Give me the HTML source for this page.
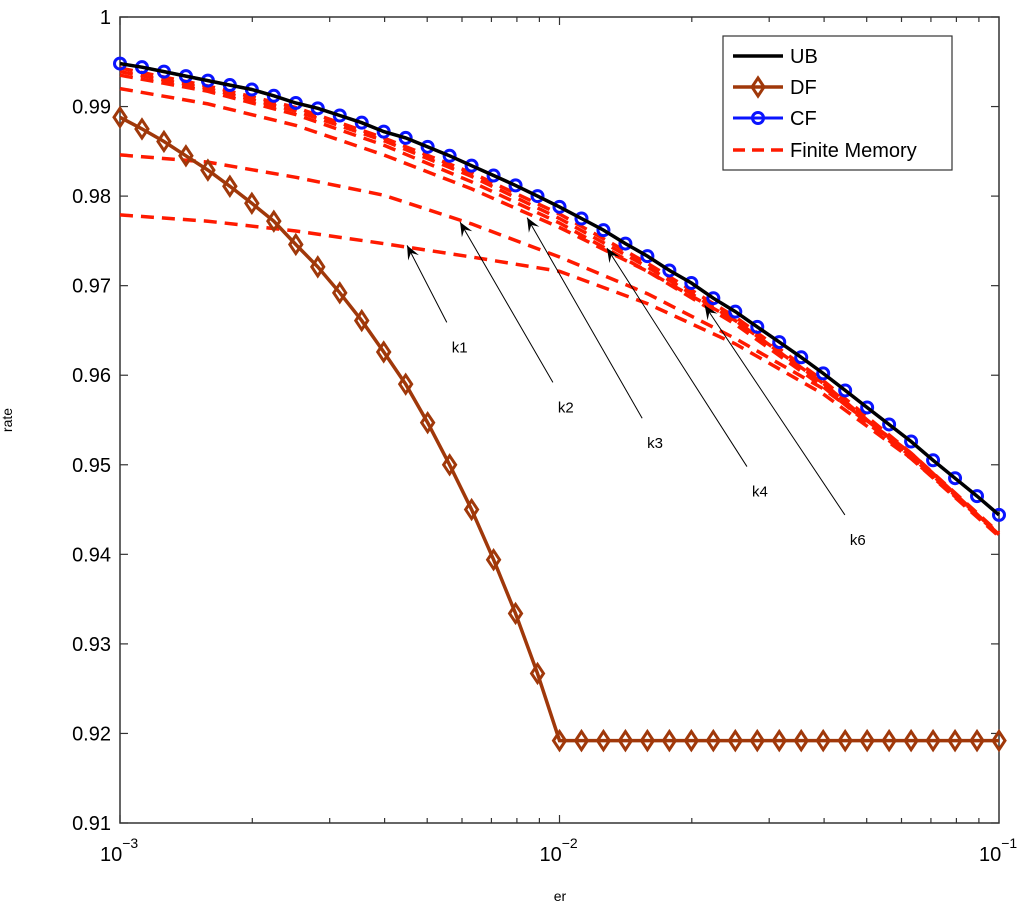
<!DOCTYPE html>
<html><head><meta charset="utf-8"><style>
body{margin:0;background:#fff;}
svg{display:block;font-family:"Liberation Sans",sans-serif;}
</style></head><body>
<svg id="chart" width="1024" height="910" viewBox="0 0 1024 910" xmlns="http://www.w3.org/2000/svg">
<rect x="0" y="0" width="1024" height="910" fill="#fff"/>
<g id="axes"></g>
<g id="series"></g>
<g id="annot"></g>
<g id="legend"></g>
<text x="12" y="420" font-size="14" text-anchor="middle" transform="rotate(-90 12 420)">rate</text>
<text x="560" y="901" font-size="14" text-anchor="middle">er</text>
</svg>
<script>
const xExpStart = -3, xExpEnd = -1, nPts = 41;
const ubValues = [0.9948,0.9944,0.9939,0.9934,0.9929,0.9924,0.9919,0.9912,0.9904,0.9898,0.9890,0.9882,0.9872,0.9865,0.9855,0.9845,0.9834,0.9823,0.9812,0.9800,0.9788,0.9775,0.9762,0.9747,0.9733,0.9717,0.9703,0.9686,0.9671,0.9654,0.9637,0.9620,0.9602,0.9583,0.9564,0.9545,0.9526,0.9505,0.9485,0.9465,0.9444];
const cfValues = [0.9948,0.9944,0.9939,0.9934,0.9929,0.9924,0.9919,0.9912,0.9904,0.9898,0.9890,0.9882,0.9872,0.9865,0.9855,0.9845,0.9834,0.9823,0.9812,0.9800,0.9788,0.9775,0.9762,0.9747,0.9733,0.9717,0.9703,0.9686,0.9671,0.9654,0.9637,0.9620,0.9602,0.9583,0.9564,0.9545,0.9526,0.9505,0.9485,0.9465,0.9444];
const dfValues = [0.9888,0.9875,0.9861,0.9845,0.9829,0.9811,0.9792,0.9772,0.9746,0.9721,0.9692,0.9661,0.9626,0.9590,0.9547,0.9500,0.9450,0.9394,0.9334,0.9267,0.9192,0.9192,0.9192,0.9192,0.9192,0.9192,0.9192,0.9192,0.9192,0.9192,0.9192,0.9192,0.9192,0.9192,0.9192,0.9192,0.9192,0.9192,0.9192,0.9192,0.9192];
const fmExps = [-3,-2.8,-2.6,-2.4,-2.2,-2,-1.8,-1.6,-1.4,-1.2,-1];
const fmK1 = [0.9779,0.9772,0.9761,0.9747,0.9732,0.9716,0.9680,0.9635,0.9579,0.9507,0.9420];
const fmK2 = [0.9846,0.9838,0.9821,0.9801,0.9769,0.9732,0.9691,0.9641,0.9585,0.9513,0.9422];
const fmK3 = [0.9920,0.9903,0.9879,0.9846,0.9808,0.9765,0.9716,0.9661,0.9591,0.9509,0.9422];
const fmK4 = [0.9935,0.9917,0.9891,0.9857,0.9816,0.9770,0.9716,0.9657,0.9587,0.9507,0.9422];
const fmK5 = [0.9939,0.9920,0.9895,0.9862,0.9822,0.9775,0.9721,0.9661,0.9591,0.9509,0.9423];
const fmK6 = [0.9943,0.9923,0.9899,0.9865,0.9826,0.9780,0.9725,0.9665,0.9594,0.9513,0.9424];
const yTicks = [0.91,0.92,0.93,0.94,0.95,0.96,0.97,0.98,0.99,1];
const yTickLabels = ["0.91","0.92","0.93","0.94","0.95","0.96","0.97","0.98","0.99","1"];
const xMajorExps = [-3,-2,-1];
const annLabels = ["k1","k2","k3","k4","k6"];
const annTipX = [0.0045,0.00594,0.00844,0.01282,0.0214];
const annTipY = [0.9745,0.9771,0.9776,0.9742,0.9678];
const annLabX = [0.00554,0.00966,0.01542,0.0267,0.0446];
const annLabY = [0.9659,0.9592,0.9552,0.9498,0.9444];

const L=120,R=999,T=17,B=823;
const NS="http://www.w3.org/2000/svg";
function sx(e){return L+(e-xExpStart)/(xExpEnd-xExpStart)*(R-L);}
function xv(v){return sx(Math.log10(v));}
function sy(v){return B-(v-0.91)/0.09*(B-T);}
function mk(tag,attrs,parent){const el=document.createElementNS(NS,tag);for(const k in attrs)el.setAttribute(k,attrs[k]);parent.appendChild(el);return el;}
const axes=document.getElementById('axes'),series=document.getElementById('series'),annot=document.getElementById('annot'),legend=document.getElementById('legend');
let f=mk('rect',{x:L,y:T,width:R-L,height:B-T,fill:'none',stroke:'#333','stroke-width':1.5},axes);


yTicks.forEach((v,i)=>{const y=sy(v);
 mk('line',{x1:L,y1:y,x2:L+8,y2:y,stroke:'#333','stroke-width':1.2},axes);
 mk('line',{x1:R,y1:y,x2:R-8,y2:y,stroke:'#333','stroke-width':1.2},axes);
 const t=mk('text',{x:L-9,y:y+7,'font-size':20,'text-anchor':'end'},axes);t.textContent=yTickLabels[i];
 
 
});
for(let d=-3;d<-1;d++){for(let m=1;m<10;m++){const x=sx(d+Math.log10(m));const len=m===1?8:5;
 mk('line',{x1:x,y1:B,x2:x,y2:B-len,stroke:'#333','stroke-width':1.2},axes);
 mk('line',{x1:x,y1:T,x2:x,y2:T+len,stroke:'#333','stroke-width':1.2},axes);}}
xMajorExps.forEach(e=>{const x=sx(e);
 const t=mk('text',{x:x-20,y:861,'font-size':20},axes);
 
 
 const a=mk('tspan',{},t);a.textContent='10';
 const b=mk('tspan',{dy:-13,'font-size':14},t);b.textContent='\u2212'+Math.abs(e);
});
function xs(i){return sx(xExpStart+i*(xExpEnd-xExpStart)/(nPts-1));}
function path(xsArr,vals){return vals.map((v,i)=>(i?'L':'M')+xsArr[i].toFixed(1)+','+sy(v).toFixed(1)).join('');}
const gridX=ubValues.map((_,i)=>xs(i));
const fmX=fmExps.map(sx);
[fmK1,fmK2,fmK3,fmK4,fmK5,fmK6].forEach((arr,k)=>{
 const p=mk('path',{d:path(fmX,arr),fill:'none',stroke:'#ff1a00','stroke-width':3.5,'stroke-dasharray':'13 8'},series);
 
 
});
const dfp=mk('path',{d:path(gridX,dfValues),fill:'none',stroke:'#a0380a','stroke-width':3.5},series);


dfValues.forEach((v,i)=>{const x=gridX[i],y=sy(v);
 const m=mk('path',{d:`M${x},${y-9}L${x+6},${y}L${x},${y+9}L${x-6},${y}Z`,fill:'none',stroke:'#a0380a','stroke-width':3},series);
 
 
});
cfValues.forEach((v,i)=>{
 const c=mk('circle',{cx:gridX[i],cy:sy(v),r:5.5,fill:'none',stroke:'#0a14ff','stroke-width':3},series);
 
 
});
const cfp=mk('path',{d:path(gridX,cfValues),fill:'none',stroke:'#0a14ff','stroke-width':3},series);


const ubp=mk('path',{d:path(gridX,ubValues),fill:'none',stroke:'#000','stroke-width':3.5},series);


annLabels.forEach((lab,i)=>{
 const x1=xv(annLabX[i]),y1=sy(annLabY[i]),x2=xv(annTipX[i]),y2=sy(annTipY[i]);
 const ln=mk('line',{x1:x1,y1:y1,x2:x2,y2:y2,stroke:'#000','stroke-width':1},annot);
 
 
 const ang=Math.atan2(y2-y1,x2-x1),h=14,w=6;
 const bx=x2-h*Math.cos(ang),by=y2-h*Math.sin(ang),nx=-Math.sin(ang)*w,ny=Math.cos(ang)*w;
 const ix=x2-h*0.6*Math.cos(ang),iy=y2-h*0.6*Math.sin(ang);
 mk('path',{d:`M${x2},${y2}L${bx+nx},${by+ny}L${ix},${iy}L${bx-nx},${by-ny}Z`,fill:'#000'},annot);
 const t=mk('text',{x:x1+5,y:y1+30,'font-size':15},annot);t.textContent=lab;
 
 
});
const lb=mk('rect',{x:723,y:36,width:229,height:134,fill:'#fff',stroke:'#333','stroke-width':1.2},legend);


const legNames=["UB","DF","CF","Finite Memory"];
const legY=[56,87,118,150];
legNames.forEach((n,i)=>{const y=legY[i];
 const g=mk('g',{},legend);
 
 
 if(i===0)mk('line',{x1:733,y1:y,x2:783,y2:y,stroke:'#000','stroke-width':3.5},g);
 if(i===1){mk('line',{x1:733,y1:y,x2:783,y2:y,stroke:'#a0380a','stroke-width':3.5},g);mk('path',{d:`M758,${y-9}L764,${y}L758,${y+9}L752,${y}Z`,fill:'none',stroke:'#a0380a','stroke-width':3},g);}
 if(i===2){mk('line',{x1:733,y1:y,x2:783,y2:y,stroke:'#0a14ff','stroke-width':3},g);mk('circle',{cx:758,cy:y,r:5.5,fill:'none',stroke:'#0a14ff','stroke-width':3},g);}
 if(i===3)mk('line',{x1:733,y1:y,x2:783,y2:y,stroke:'#ff1a00','stroke-width':3.5,'stroke-dasharray':'12 7'},g);
 const t=mk('text',{x:790,y:y+7,'font-size':20},g);t.textContent=n;
});
</script>
</body></html>
